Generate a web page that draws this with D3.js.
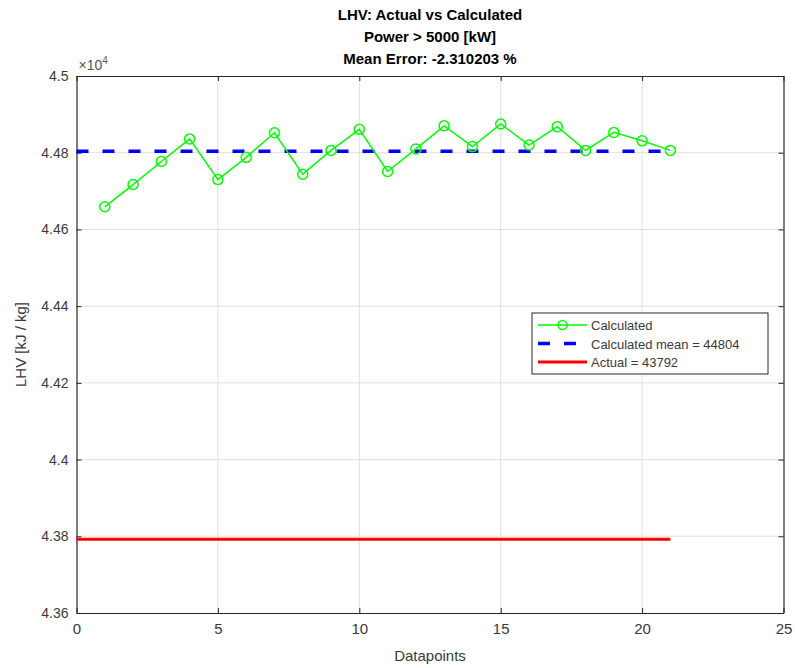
<!DOCTYPE html>
<html>
<head>
<meta charset="utf-8">
<script src="https://cdn.jsdelivr.net/npm/d3@7"></script>
<style>
  body { margin: 0; background: #fff; }
  svg text { font-family: "Liberation Sans", Arial, sans-serif; }
</style>
</head>
<body>
<svg id="chart" width="795" height="668"></svg>
<script>
// data
const datapoints = [1, 2, 3, 4, 5, 6, 7, 8, 9, 10, 11, 12, 13, 14, 15, 16, 17, 18, 19, 20, 21];
const calculated = [44659, 44717, 44777, 44836, 44730, 44788, 44852, 44744, 44806, 44861,
  44751, 44810, 44870, 44816, 44875, 44820, 44868, 44806, 44853, 44831, 44806];
const calcMean = 44804;
const actual = 43792;
const refX = [0, 21];
const xTicks = [0, 5, 10, 15, 20, 25];
const yTicks = [43600, 43800, 44000, 44200, 44400, 44600, 44800, 45000];
const titleLines = ['LHV: Actual vs Calculated', 'Power > 5000 [kW]', 'Mean Error: -2.310203 %'];
const legendLabels = ['Calculated', 'Calculated mean = 44804', 'Actual = 43792'];

const margin = { top: 76, right: 11.5, bottom: 55, left: 76.5 };
const width = 795 - margin.left - margin.right;
const height = 668 - margin.top - margin.bottom;
const axisColour = '#262626';

const svg = d3.select('#chart');
const g = svg.append('g').attr('transform', `translate(${margin.left},${margin.top})`);

const x = d3.scaleLinear().domain([0, 25]).range([0, width]);
const y = d3.scaleLinear().domain([43600, 45000]).range([height, 0]);

// grid
g.append('g').selectAll('line').data(xTicks.slice(1, -1)).enter().append('line')
  .attr('x1', d => x(d)).attr('x2', d => x(d)).attr('y1', 0).attr('y2', height)
  .attr('stroke', '#dfdfdf').attr('stroke-width', 1);
g.append('g').selectAll('line').data(yTicks.slice(1, -1)).enter().append('line')
  .attr('y1', d => y(d)).attr('y2', d => y(d)).attr('x1', 0).attr('x2', width)
  .attr('stroke', '#dfdfdf').attr('stroke-width', 1);

// axes
const xAxis = g.append('g').attr('transform', `translate(0,${height})`)
  .call(d3.axisBottom(x).tickValues(xTicks).tickSizeInner(-5).tickSizeOuter(0).tickPadding(10));
const yAxis = g.append('g')
  .call(d3.axisLeft(y).tickValues(yTicks).tickFormat(d => d3.format('')(+(d / 10000).toFixed(2)))
    .tickSizeInner(-5).tickSizeOuter(0).tickPadding(8));
const xTop = g.append('g')
  .call(d3.axisTop(x).tickValues(xTicks).tickSizeInner(-5).tickSizeOuter(0).tickFormat(''));
const yRight = g.append('g').attr('transform', `translate(${width},0)`)
  .call(d3.axisRight(y).tickValues(yTicks).tickSizeInner(-5).tickSizeOuter(0).tickFormat(''));
[xAxis, yAxis, xTop, yRight].forEach(a => {
  a.select('.domain').attr('stroke', axisColour).attr('stroke-width', 1.2);
  a.selectAll('.tick line').attr('stroke', axisColour);
  a.selectAll('.tick text').attr('fill', '#3a3a3a').style('font-size', '14px');
});
xAxis.selectAll('.tick text').style('font-size', '15px');

// actual line
const line = d3.line().x(d => x(d[0])).y(d => y(d[1]));
g.append('path').datum(refX.map(v => [v, actual])).attr('d', line)
  .attr('fill', 'none').attr('stroke', '#ff0000').attr('stroke-width', 3);

// calculated mean
g.append('path').datum(refX.map(v => [v, calcMean])).attr('d', line)
  .attr('fill', 'none').attr('stroke', '#0000ff').attr('stroke-width', 3.5)
  .attr('stroke-dasharray', '12,14');

// calculated series
const pts = datapoints.map((d, i) => [d, calculated[i]]);
g.append('path').datum(pts).attr('d', line)
  .attr('fill', 'none').attr('stroke', '#00ff00').attr('stroke-width', 1.5);
g.append('g').selectAll('circle').data(pts).enter().append('circle')
  .attr('cx', d => x(d[0])).attr('cy', d => y(d[1])).attr('r', 5)
  .attr('fill', 'none').attr('stroke', '#00ff00').attr('stroke-width', 1.5);

// exponent
const expo = g.append('text').attr('x', 2).attr('y', -6).attr('fill', '#555')
  .style('font-size', '14px').text('×10');
expo.append('tspan').attr('dy', -6).style('font-size', '10px').text('4');

// titles
svg.append('g').selectAll('text').data(titleLines).enter().append('text')
  .attr('x', margin.left + width / 2).attr('y', (d, i) => 20 + i * 22)
  .attr('text-anchor', 'middle').attr('fill', '#000')
  .style('font-size', '15px').style('font-weight', 'bold').text(d => d);

svg.append('text').attr('x', margin.left + width / 2).attr('y', 661)
  .attr('text-anchor', 'middle').attr('fill', '#3a3a3a').style('font-size', '15px')
  .text('Datapoints');
svg.append('text').attr('transform', `translate(26,${margin.top + height / 2}) rotate(-90)`)
  .attr('text-anchor', 'middle').attr('fill', '#3a3a3a').style('font-size', '15px')
  .text('LHV [kJ / kg]');

// legend
const leg = svg.append('g').attr('transform', 'translate(532,313)');
leg.append('rect').attr('width', 236).attr('height', 61)
  .attr('fill', '#fff').attr('stroke', axisColour).attr('stroke-width', 1);
const legStyles = [
  { colour: '#00ff00', w: 1.5, dash: null, marker: true },
  { colour: '#0000ff', w: 3.5, dash: '12,14', marker: false },
  { colour: '#ff0000', w: 3, dash: null, marker: false }
];
legendLabels.forEach((lab, i) => {
  const yy = 12 + i * 18.5;
  const s = legStyles[i];
  leg.append('line').attr('x1', 6).attr('x2', 55).attr('y1', yy).attr('y2', yy)
    .attr('stroke', s.colour).attr('stroke-width', s.w)
    .attr('stroke-dasharray', s.dash);
  if (s.marker) {
    leg.append('circle').attr('cx', 30.5).attr('cy', yy).attr('r', 4.5)
      .attr('fill', 'none').attr('stroke', s.colour).attr('stroke-width', 1.5);
  }
  leg.append('text').attr('x', 59).attr('y', yy + 5).attr('fill', '#3a3a3a')
    .style('font-size', '13px').text(lab);
});
</script>
</body>
</html>
